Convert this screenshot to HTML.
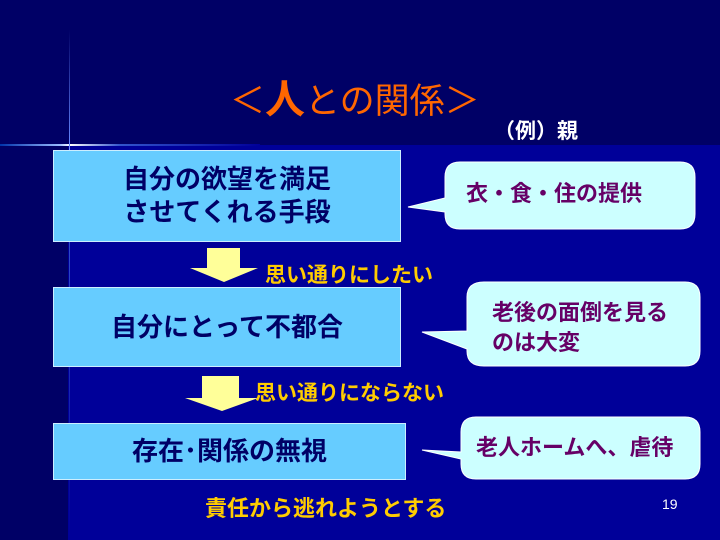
<!DOCTYPE html>
<html><head><meta charset="utf-8"><style>
body{margin:0;width:720px;height:540px;overflow:hidden;background:#000066;position:relative;font-family:"Liberation Sans","Noto Sans CJK JP",sans-serif;font-weight:bold}
.a{position:absolute}
.box{position:absolute;background:#66ccff;border:1px solid #cceeff;color:#000066;font-size:26px;display:flex;align-items:center;justify-content:center;text-align:center;line-height:33px;white-space:nowrap}
.yl{position:absolute;color:#ffcc00;font-size:21px;white-space:nowrap}
.ct{position:absolute;color:#660066;font-size:22px;line-height:30px;white-space:nowrap}
</style></head><body>
<div class="a" style="left:68px;top:145px;width:652px;height:395px;background:#000099"></div>
<div class="a" style="left:0;top:144px;width:260px;height:2px;background:linear-gradient(90deg,#0033aa,#99bbff 60px,#ffffff 70px,#3355cc 120px,#000099)"></div>
<div class="a" style="left:69px;top:30px;width:1px;height:510px;background:linear-gradient(#000066,#6688ff 115px,#ffffff 145px,#3355cc 175px,#000099)"></div>
<div class="a" style="left:230px;top:78px;color:#ff6600;font-size:35px;line-height:44px;font-weight:normal;white-space:nowrap">＜<span style="font-size:40px;font-weight:bold">人</span>との関係＞</div>
<div class="a" style="left:494px;top:115px;color:#fff;font-size:21px;white-space:nowrap">（例）親</div>
<div class="box" style="left:53px;top:150px;width:346px;height:90px">自分の欲望を満足<br>させてくれる手段</div>
<div class="box" style="left:53px;top:287px;width:346px;height:78px">自分にとって不都合</div>
<div class="box" style="left:53px;top:423px;width:351px;height:55px">存在･関係の無視</div>
<svg class="a" style="left:0;top:0" width="720" height="540">
<polygon points="207,248 240,248 240,268 258,268 224,282 190,268 207,268" fill="#ffff99"/>
<polygon points="202,376 239,376 239,398 258,398 222,411 185,398 202,398" fill="#ffff99"/>
<path d="M460,162 H680 Q695,162 695,177 V214 Q695,229 680,229 H460 Q445,229 445,214 V212 L408,207 L445,198 V177 Q445,162 460,162Z" fill="#ccffff" stroke="#fff"/>
<path d="M484,282 H685 Q700,282 700,297 V351 Q700,366 685,366 H484 Q467,366 467,351 V349 L422,332 L467,331 V297 Q467,282 484,282Z" fill="#ccffff" stroke="#fff"/>
<path d="M476,417 H685 Q700,417 700,432 V464 Q700,479 685,479 H476 Q461,479 461,464 L461,459 L422,450 L461,452 V432 Q461,417 476,417Z" fill="#ccffff" stroke="#fff"/>
</svg>
<div class="ct" style="left:466px;top:179px">衣・食・住の提供</div>
<div class="ct" style="left:492px;top:298px;line-height:30px">老後の面倒を見る<br>のは大変</div>
<div class="ct" style="left:476px;top:433px">老人ホームへ、虐待</div>
<div class="yl" style="left:265px;top:259px">思い通りにしたい</div>
<div class="yl" style="left:255px;top:377px">思い通りにならない</div>
<div class="yl" style="left:205px;top:491px;font-size:22px">責任から逃れようとする</div>
<div class="a" style="left:662px;top:496px;color:#fff;font-size:14px;font-weight:normal">19</div>
</body></html>
